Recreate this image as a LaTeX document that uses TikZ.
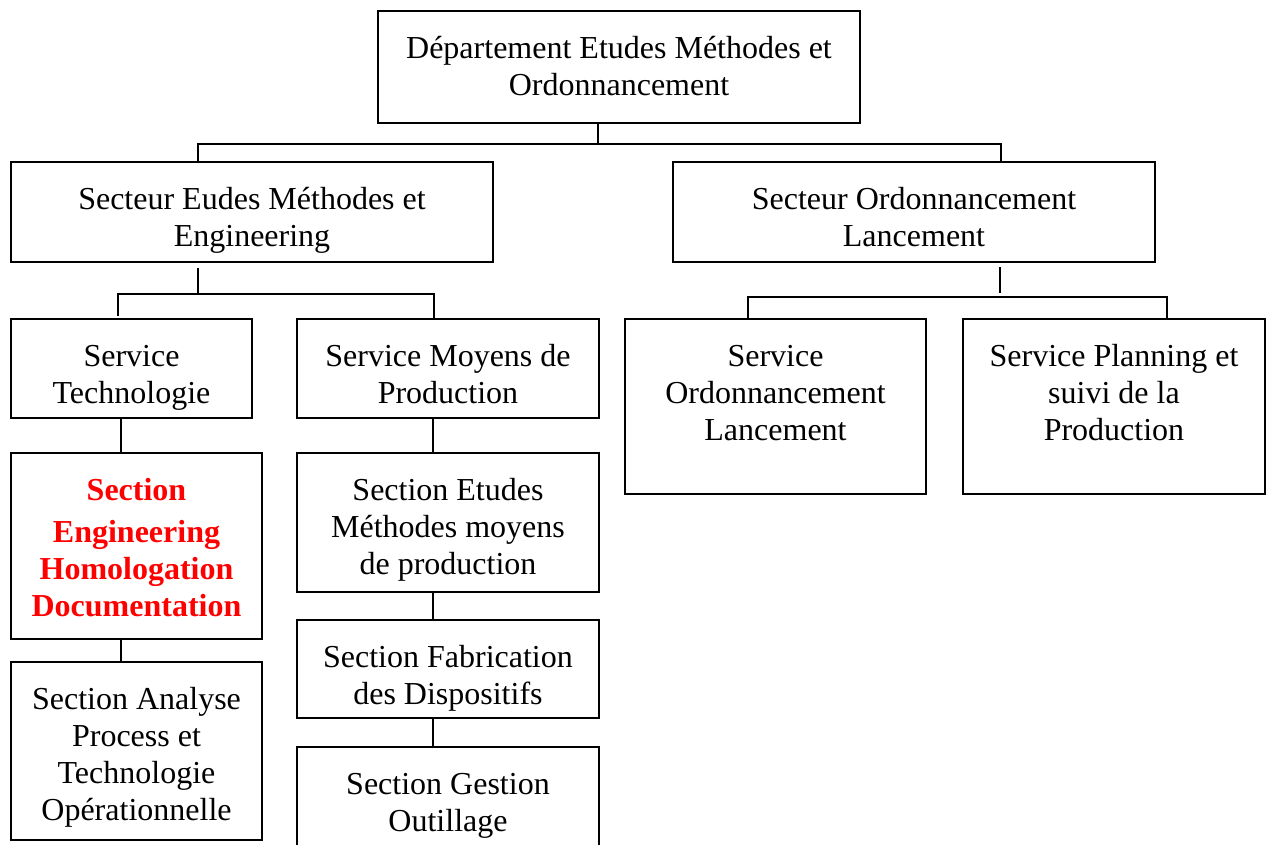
\documentclass[tikz,border=0pt]{standalone}
\usepackage{fontspec}
\setmainfont{Liberation Serif}
% one organisational unit: [style] name, left, top, width, height, text
\newcommand\orgunit[7][]{%
  \node[orgbox, minimum width=#5pt, minimum height=#6pt, #1] (#2) at (#3,#4)
    {\parbox[c][#6pt][t]{#5pt}{\centering\rule{0pt}{47pt}#7}};}
\begin{document}
\begin{tikzpicture}[x=1pt, y=-1pt,
  orgbox/.style={draw, line width=1.8pt, rectangle, inner sep=0pt, outer sep=0pt,
    anchor=north west, font=\fontsize{32}{37}\selectfont},
  keyunit/.style={text=red, font=\fontsize{32}{37}\selectfont\bfseries},
  link/.style={line width=1.8pt}]
\useasboundingbox (0,0) rectangle (1268,844);

% units
\orgunit{dept}{378}{11}{482}{112}{Département Etudes Méthodes et\\Ordonnancement}
\orgunit{sem}{11}{162}{482}{100}{Secteur Eudes Méthodes et\\Engineering}
\orgunit{sol}{673}{162}{482}{100}{Secteur Ordonnancement\\Lancement}
\orgunit{stech}{11}{319}{241}{99}{Service\\Technologie}
\orgunit{smp}{297}{319}{302}{99}{Service Moyens de\\Production}
\orgunit{sord}{625}{319}{301}{175}{Service\\Ordonnancement\\Lancement}
\orgunit{splan}{963}{319}{302}{175}{Service Planning et\\suivi de la\\Production}
\orgunit[keyunit]{seng}{11}{453}{251}{186}{Section\\[5pt]Engineering\\Homologation\\Documentation}
\orgunit{sana}{11}{662}{251}{178}{Section Analyse\\Process et\\Technologie\\Opérationnelle}
\orgunit{setu}{297}{453}{302}{139}{Section Etudes\\Méthodes moyens\\de production}
\orgunit{sfab}{297}{620}{302}{98}{Section Fabrication\\des Dispositifs}
\orgunit{sges}{297}{747}{302}{110}{Section Gestion\\Outillage}

% department to sectors
\coordinate (busA) at (598,144);
\coordinate (busAl) at (198,144);
\coordinate (busAr) at (1001,144);
\draw[link] (dept.south -| busA) -- (busA);
\draw[link] (sem.north -| busAl) |- (busAr) -- (sol.north -| busAr);

% sector Etudes Méthodes to its services
\coordinate (tB) at (198,268);
\coordinate (busBm) at (198,294);
\coordinate (busBl) at (118,294);
\coordinate (busBr) at (434,294);
\draw[link] (tB) -- (busBm);
\draw[link] ([yshift=3pt]stech.north -| busBl) |- (busBr) -- ([yshift=1pt]smp.north -| busBr);

% sector Ordonnancement to its services
\coordinate (tC) at (1000,267);
\coordinate (eC) at (1000,293);
\coordinate (busCl) at (748,297);
\coordinate (busCr) at (1167,297);
\draw[link] (tC) -- (eC);
\draw[link] (sord.north -| busCl) |- (busCr) -- (splan.north -| busCr);

% column under Service Technologie
\coordinate (colT) at (121,0);
\draw[link] (stech.south -| colT) -- (seng.north -| colT);
\draw[link] (seng.south -| colT) -- (sana.north -| colT);

% column under Service Moyens de Production
\coordinate (colM) at (433,0);
\draw[link] (smp.south -| colM) -- (setu.north -| colM);
\draw[link] (setu.south -| colM) -- (sfab.north -| colM);
\draw[link] (sfab.south -| colM) -- (sges.north -| colM);
\end{tikzpicture}
\end{document}
